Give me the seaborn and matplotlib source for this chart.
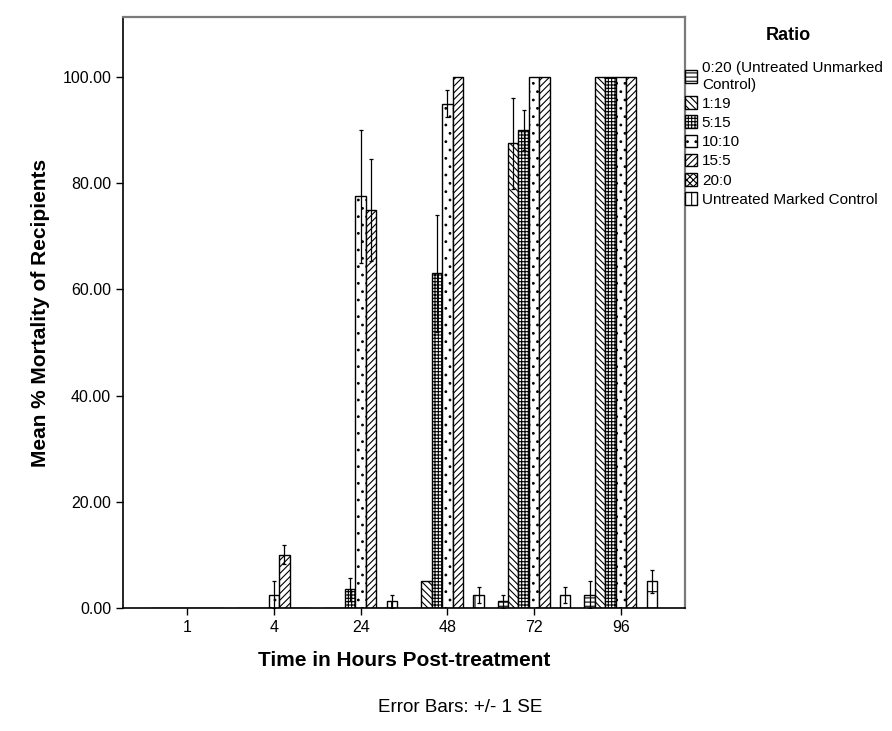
import pandas as pd
import matplotlib.pyplot as plt
import seaborn as sns
from matplotlib.ticker import FormatStrFormatter

# Mean % mortality per ratio at each time point, with +/- 1 SE
times = ['1', '4', '24', '48', '72', '96']
ratios = ['0:20 (Untreated Unmarked\nControl)', '1:19', '5:15', '10:10', '15:5', '20:0',
          'Untreated Marked Control']

mort_0_20 = [0, 0, 0, 0, 1.25, 2.5]
mort_1_19 = [0, 0, 0, 5, 87.5, 100]
mort_5_15 = [0, 0, 3.5, 63, 90, 100]
mort_10_10 = [0, 2.5, 77.5, 95, 100, 100]
mort_15_5 = [0, 10, 75, 100, 100, 100]
mort_20_0 = [0, 0, 0, 0, 0, 0]
mort_marked = [0, 0, 1.25, 2.5, 2.5, 5]

se_0_20 = [0, 0, 0, 0, 1.25, 2.5]
se_1_19 = [0, 0, 0, 0, 8.5, 0]
se_5_15 = [0, 0, 2.2, 11, 3.7, 0]
se_10_10 = [0, 2.5, 12.5, 2.5, 0, 0]
se_15_5 = [0, 1.8, 9.6, 0, 0, 0]
se_20_0 = [0, 0, 0, 0, 0, 0]
se_marked = [0, 0, 1.25, 1.5, 1.5, 2.2]

means = [mort_0_20, mort_1_19, mort_5_15, mort_10_10, mort_15_5, mort_20_0, mort_marked]
ses = [se_0_20, se_1_19, se_5_15, se_10_10, se_15_5, se_20_0, se_marked]

hatches = ['----', '\\\\\\\\\\', '+++++', '..', '/////', 'xxxxx', '+']

rows = []
for r, m_list, s_list in zip(ratios, means, ses):
    for t, m, s in zip(times, m_list, s_list):
        rows.append({'time': t, 'ratio': r, 'mortality': m, 'se': s})
df = pd.DataFrame(rows)

sns.set_style('white')
plt.rcParams['font.family'] = ['Liberation Sans', 'DejaVu Sans']
plt.rcParams['hatch.linewidth'] = 0.8
plt.rcParams['text.color'] = 'black'
plt.rcParams['axes.labelcolor'] = 'black'

fig = plt.figure(figsize=(8.92, 7.31), dpi=100)
ax = fig.add_axes([0.1379, 0.1683, 0.630, 0.8084])

sns.barplot(data=df, x='time', y='mortality', hue='ratio', order=times, hue_order=ratios,
            palette={r: 'white' for r in ratios}, saturation=1, width=0.84,
            errorbar=None, edgecolor='black', linewidth=1.0, legend=False, ax=ax)

for cont, r, h in zip(ax.containers, ratios, hatches):
    for bar in cont:
        bar.set_hatch(h)
    sub = df[df.ratio == r].set_index('time').loc[times]
    xs = [b.get_x() + b.get_width() / 2 for b in cont]
    ys = [b.get_height() for b in cont]
    keep = [i for i, s in enumerate(sub['se']) if s > 0]
    if keep:
        ax.errorbar([xs[i] for i in keep], [ys[i] for i in keep],
                    yerr=[sub['se'].iloc[i] for i in keep], fmt='none',
                    ecolor='black', elinewidth=0.9, capsize=1.5, capthick=0.9)

ax.set_xlim(-0.74, 5.74)
ax.set_ylim(0, 111.3)
ax.set_yticks([0, 20, 40, 60, 80, 100])
ax.yaxis.set_major_formatter(FormatStrFormatter('%.2f'))
ax.tick_params(axis='both', direction='out', length=5, width=1, color='black',
               labelsize=11.5, labelcolor='black', left=True, bottom=True)

for side in ['left', 'bottom']:
    ax.spines[side].set_color('black')
    ax.spines[side].set_linewidth(1.2)
for side in ['top', 'right']:
    ax.spines[side].set_color('#7a7a7a')
    ax.spines[side].set_linewidth(1.6)

ax.set_xlabel('Time in Hours Post-treatment', fontsize=15, fontweight='bold')
ax.set_ylabel('Mean % Mortality of Recipients', fontsize=15, fontweight='bold')
ax.xaxis.set_label_coords(0.5, -0.073)
ax.yaxis.set_label_coords(-0.13, 0.5)

fig.text(788 / 892, 1 - 35 / 731, 'Ratio', ha='center', va='center',
         fontsize=13, fontweight='bold')
ax.legend(handles=list(ax.containers), labels=ratios,
          loc='upper left', bbox_to_anchor=(1.0, 0.925), frameon=False,
          borderaxespad=0, borderpad=0, fontsize=11,
          handlelength=0.8, handleheight=0.9, handletextpad=0.3, labelspacing=0.3)

fig.text(0.516, 0.0315, 'Error Bars: +/- 1 SE', ha='center', va='center', fontsize=13.5)

fig.savefig('out.png', dpi=100)
